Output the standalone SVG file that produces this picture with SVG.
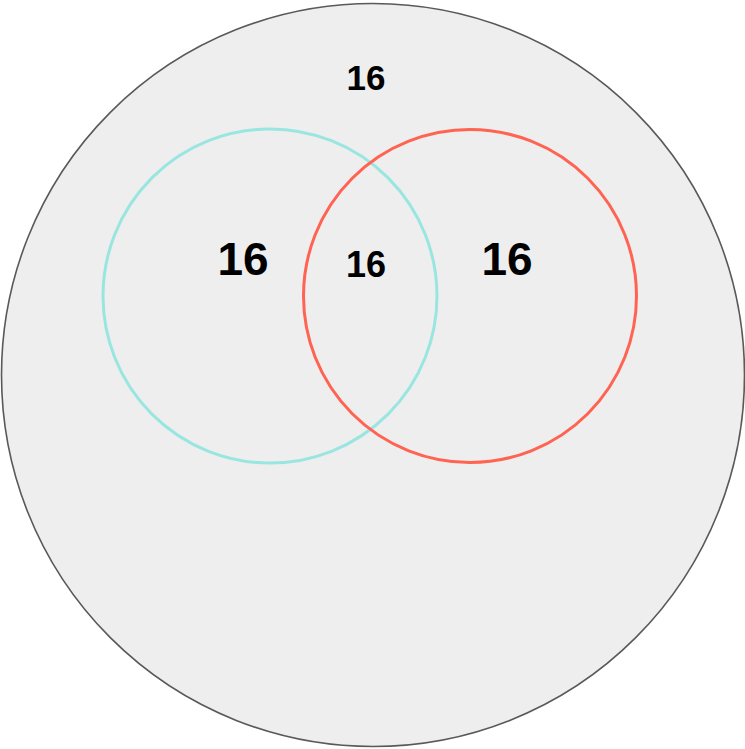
<svg xmlns="http://www.w3.org/2000/svg" width="745" height="749" viewBox="0 0 745 749">
<style>
.t{font-family:"Liberation Sans",Arial,sans-serif;font-weight:bold;fill:#000;text-anchor:middle}
</style>
<rect width="745" height="749" fill="#fff"/>
<g id="universe">
<circle cx="373" cy="375" r="371.5" fill="#eeeeee" stroke="#595959" stroke-width="1.6"/>
<text class="t" x="366" y="90" font-size="35">16</text>
</g>
<g id="setA">
<circle cx="270" cy="296" r="167" fill="none" stroke="#99e6e1" stroke-width="3"/>
<text class="t" x="243" y="275" font-size="46">16</text>
</g>
<g id="setB">
<circle cx="470" cy="296" r="166.5" fill="none" stroke="#ff6352" stroke-width="3"/>
<text class="t" x="507" y="275" font-size="46">16</text>
</g>
<g id="intersection">
<text class="t" x="366" y="277" font-size="36">16</text>
</g>
<g id="connectors"/>
</svg>
